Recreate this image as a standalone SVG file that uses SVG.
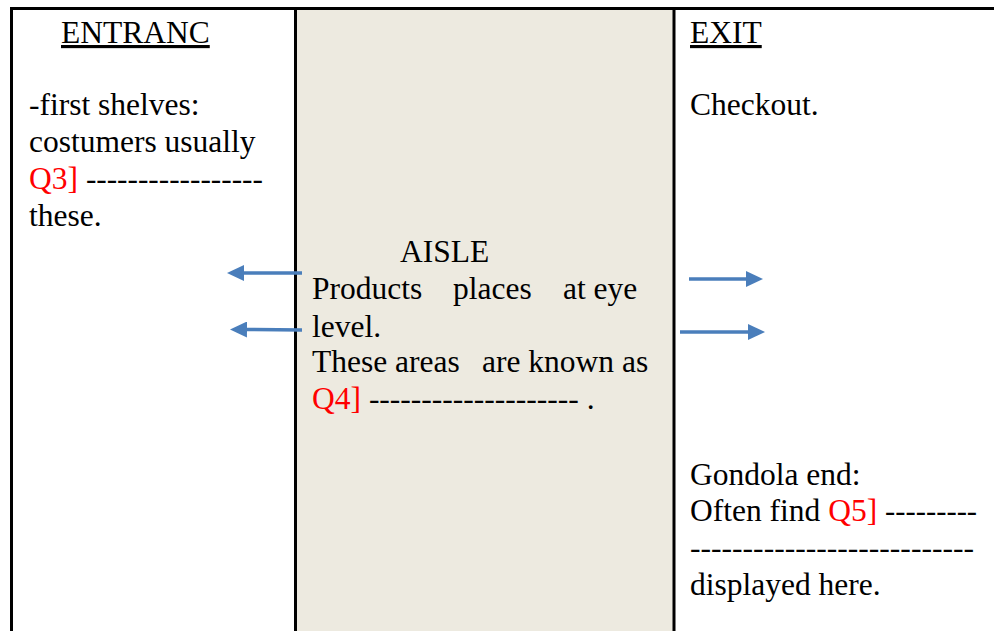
<svg xmlns="http://www.w3.org/2000/svg" width="994" height="631" viewBox="0 0 994 631">
<style>
.t{font-family:"Liberation Serif","Times New Roman",serif;font-size:31.5px;fill:#000}
.u{text-decoration:underline}
.r{fill:#FF0000}
.arr{stroke:#4A7EBB;stroke-width:3.5;fill:none}
</style>
<defs>
<marker id="ah" viewBox="0 0 17 16" refX="6" refY="8" markerWidth="17" markerHeight="16" markerUnits="userSpaceOnUse" orient="auto">
<path d="M0,0 L17,8 L0,16 z" fill="#4A7EBB"/>
</marker>
</defs>
<rect width="994" height="631" fill="#FFFFFF"/>
<g id="aisle">
<rect x="297" y="10" width="376" height="621" fill="#EDEAE0"/>
<text class="t" x="400" y="262">AISLE</text>
<text class="t" y="299"><tspan x="312">Products</tspan><tspan x="453">places</tspan><tspan x="563">at eye</tspan></text>
<text class="t" x="312" y="337">level.</text>
<text class="t" y="372"><tspan x="312">These areas</tspan><tspan x="482">are known as</tspan></text>
<text class="t" x="312" y="409"><tspan class="r">Q4]</tspan> <tspan textLength="210" lengthAdjust="spacingAndGlyphs">--------------------</tspan> .</text>
</g>
<g id="frame">
<rect x="10" y="7" width="984" height="3" fill="#000"/>
<rect x="10" y="7" width="3" height="624" fill="#000"/>
<rect x="294" y="7" width="3" height="624" fill="#000"/>
<rect x="672.5" y="7" width="3" height="624" fill="#000"/>
</g>
<g id="entrance">
<text class="t u" x="61" y="43">ENTRANC</text>
<text class="t" x="29" y="115">-first shelves:</text>
<text class="t" x="29" y="152">costumers usually</text>
<text class="t" x="29" y="189"><tspan class="r">Q3]</tspan> <tspan textLength="177" lengthAdjust="spacingAndGlyphs">-----------------</tspan></text>
<text class="t" x="29" y="226">these.</text>
</g>
<g id="exit">
<text class="t u" x="690" y="43">EXIT</text>
<text class="t" x="690" y="115">Checkout.</text>
<text class="t" x="690" y="485">Gondola end:</text>
<text class="t" x="690" y="521">Often find <tspan class="r">Q5]</tspan> <tspan textLength="92" lengthAdjust="spacingAndGlyphs">---------</tspan></text>
<text class="t" x="690" y="558" textLength="284" lengthAdjust="spacingAndGlyphs">---------------------------</text>
<text class="t" x="690" y="595">displayed here.</text>
</g>
<g id="connectors">
<line class="arr" x1="302" y1="273" x2="238" y2="273" marker-end="url(#ah)"/>
<line class="arr" x1="302" y1="330" x2="241" y2="329.5" marker-end="url(#ah)"/>
<line class="arr" x1="689" y1="279" x2="752" y2="279" marker-end="url(#ah)"/>
<line class="arr" x1="680" y1="332" x2="754" y2="332" marker-end="url(#ah)"/>
</g>
</svg>
